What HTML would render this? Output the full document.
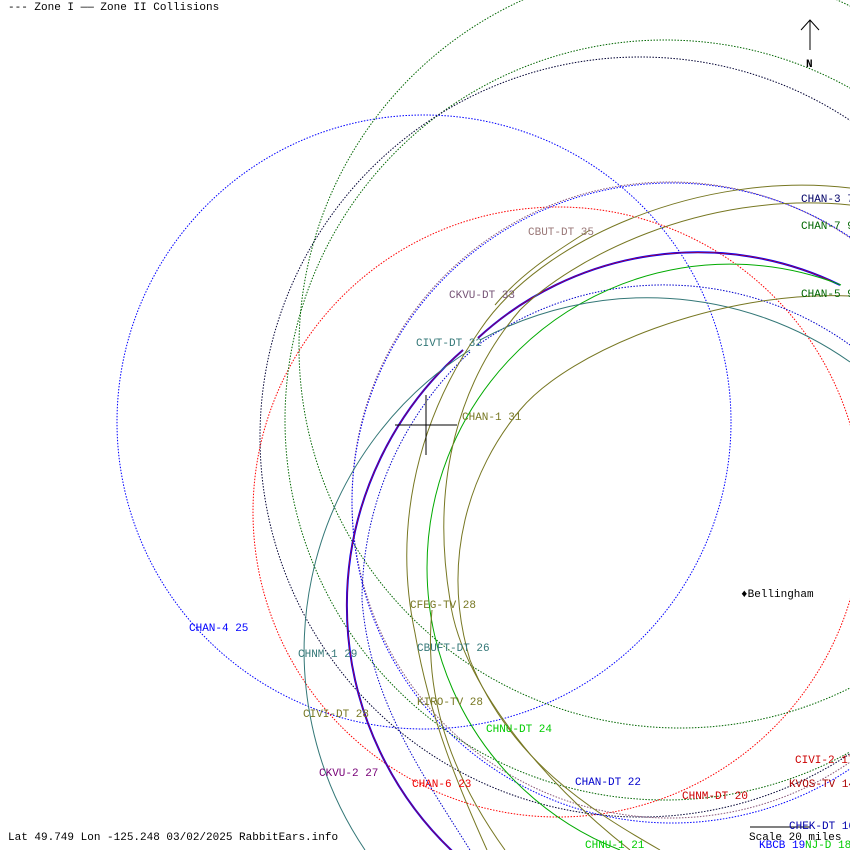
<!DOCTYPE html>
<html><head><meta charset="utf-8"><style>
html,body{margin:0;padding:0;background:#fff;overflow:hidden;width:850px;height:850px;}
svg{display:block;}
text{font-family:"Liberation Mono",monospace;font-size:11px;}
</style></head><body>
<svg width="850" height="850" viewBox="0 0 850 850" xmlns="http://www.w3.org/2000/svg">
<defs><clipPath id="c"><rect width="850" height="850"/></clipPath></defs>
<g clip-path="url(#c)" fill="none" stroke-width="1">
<!-- dotted zone I -->
<circle cx="424" cy="422" r="307" stroke="#00f" stroke-dasharray="1.5 1.5"/>
<circle cx="558" cy="512" r="305" stroke="#f00" stroke-dasharray="1.5 1.5"/>
<circle cx="680" cy="347" r="381" stroke="#060" stroke-dasharray="1.5 1.5"/>
<circle cx="665" cy="420" r="380" stroke="#060" stroke-dasharray="1.5 1.5"/>
<circle cx="640" cy="437" r="380" stroke="#003" stroke-dasharray="1.5 1.5"/>
<circle cx="670" cy="500" r="318" stroke="#857" stroke-dasharray="1.5 1.5"/>
<circle cx="672" cy="503" r="320" stroke="#00f" stroke-dasharray="1.5 1.5"/>
<path d="M478,345 A318,318 0 0 1 850,345" stroke="#00c" stroke-dasharray="1.5 1.5"/>
<path d="M470,352 A340,340 0 0 0 362,600 C370,700 420,770 470,850" stroke="#00c" stroke-dasharray="1.5 1.5"/>
<!-- solid zone II -->
<path d="M478,338 A325,325 0 0 1 840,285" stroke="#00f" stroke-width="2"/>
<path d="M478,338 A325,325 0 0 1 840,285" stroke="#d00" stroke-width="0.6"/>
<path d="M463,350 A339,339 0 0 0 462,860" stroke="#00f" stroke-width="2"/>
<path d="M463,350 A339,339 0 0 0 462,860" stroke="#d00" stroke-width="0.6"/>
<path d="M841,285 A290,290 0 1 0 620,850" stroke="#0a0"/>
<path d="M470,350 A356,356 0 0 0 365,850" stroke="#377"/>
<path d="M480,340 A352,352 0 0 1 850,362" stroke="#377"/>
<path d="M850,188 C700,170 540,240 480,330 C410,430 395,540 415,633 C430,720 460,790 487,850" stroke="#772"/>
<path d="M850,205 C700,190 570,260 520,310 C460,380 430,480 450,600 C460,680 540,780 630,850" stroke="#772"/>
<path d="M850,296 C720,290 570,350 520,410 C470,470 440,560 470,660 C510,760 590,810 660,850" stroke="#772"/>
<path d="M590,230 C550,255 520,275 495,305" stroke="#772"/>
<path d="M432,610 C425,680 440,760 505,850" stroke="#772"/>
<!-- crosshair -->
<line x1="395" y1="425" x2="457" y2="425" stroke="#000"/>
<line x1="426" y1="395" x2="426" y2="455" stroke="#000"/>
<line x1="810" y1="20" x2="810" y2="50" stroke="#000"/>
<polyline points="801,30 810,20 819,30" stroke="#000"/>
<line x1="750" y1="827" x2="810" y2="827" stroke="#000"/>
</g>
<text x="8" y="10" fill="#000">--- Zone I  —— Zone II Collisions</text>
<text x="806" y="67" fill="#000" font-weight="bold">N</text>
<text x="801" y="202" fill="#006">CHAN-3 7</text>
<text x="801" y="229" fill="#060">CHAN-7 9</text>
<text x="801" y="297" fill="#060">CHAN-5 9</text>
<text x="528" y="235" fill="#977">CBUT-DT 35</text>
<text x="449" y="298" fill="#757">CKVU-DT 33</text>
<text x="416" y="346" fill="#377">CIVT-DT 32</text>
<text x="462" y="420" fill="#772">CHAN-1 31</text>
<text x="741" y="597" fill="#000">♦Bellingham</text>
<text x="189" y="631" fill="#00f">CHAN-4 25</text>
<text x="410" y="608" fill="#772">CFEG-TV 28</text>
<text x="298" y="657" fill="#377">CHNM-1 29</text>
<text x="417" y="651" fill="#377">CBUFT-DT 26</text>
<text x="417" y="705" fill="#772">KIRO-TV 28</text>
<text x="303" y="717" fill="#772">CIVI-DT 28</text>
<text x="486" y="732" fill="#0c0">CHNU-DT 24</text>
<text x="319" y="776" fill="#707">CKVU-2 27</text>
<text x="412" y="787" fill="#e00">CHAN-6 23</text>
<text x="575" y="785" fill="#00c">CHAN-DT 22</text>
<text x="682" y="799" fill="#c00">CHNM-DT 20</text>
<text x="795" y="763" fill="#c00">CIVI-2 17</text>
<text x="789" y="787" fill="#a00">KVOS-TV 14</text>
<text x="789" y="829" fill="#00a">CHEK-DT 16</text>
<text x="749" y="840" fill="#000">Scale 20 miles</text>
<text x="759" y="848" fill="#00f">KBCB 19</text>
<text x="805" y="848" fill="#0c0">NJ-D 18</text>
<text x="585" y="848" fill="#0c0">CHNU-1 21</text>
<text x="8" y="840" fill="#000">Lat 49.749 Lon -125.248 03/02/2025 RabbitEars.info</text>
</svg>
</body></html>
